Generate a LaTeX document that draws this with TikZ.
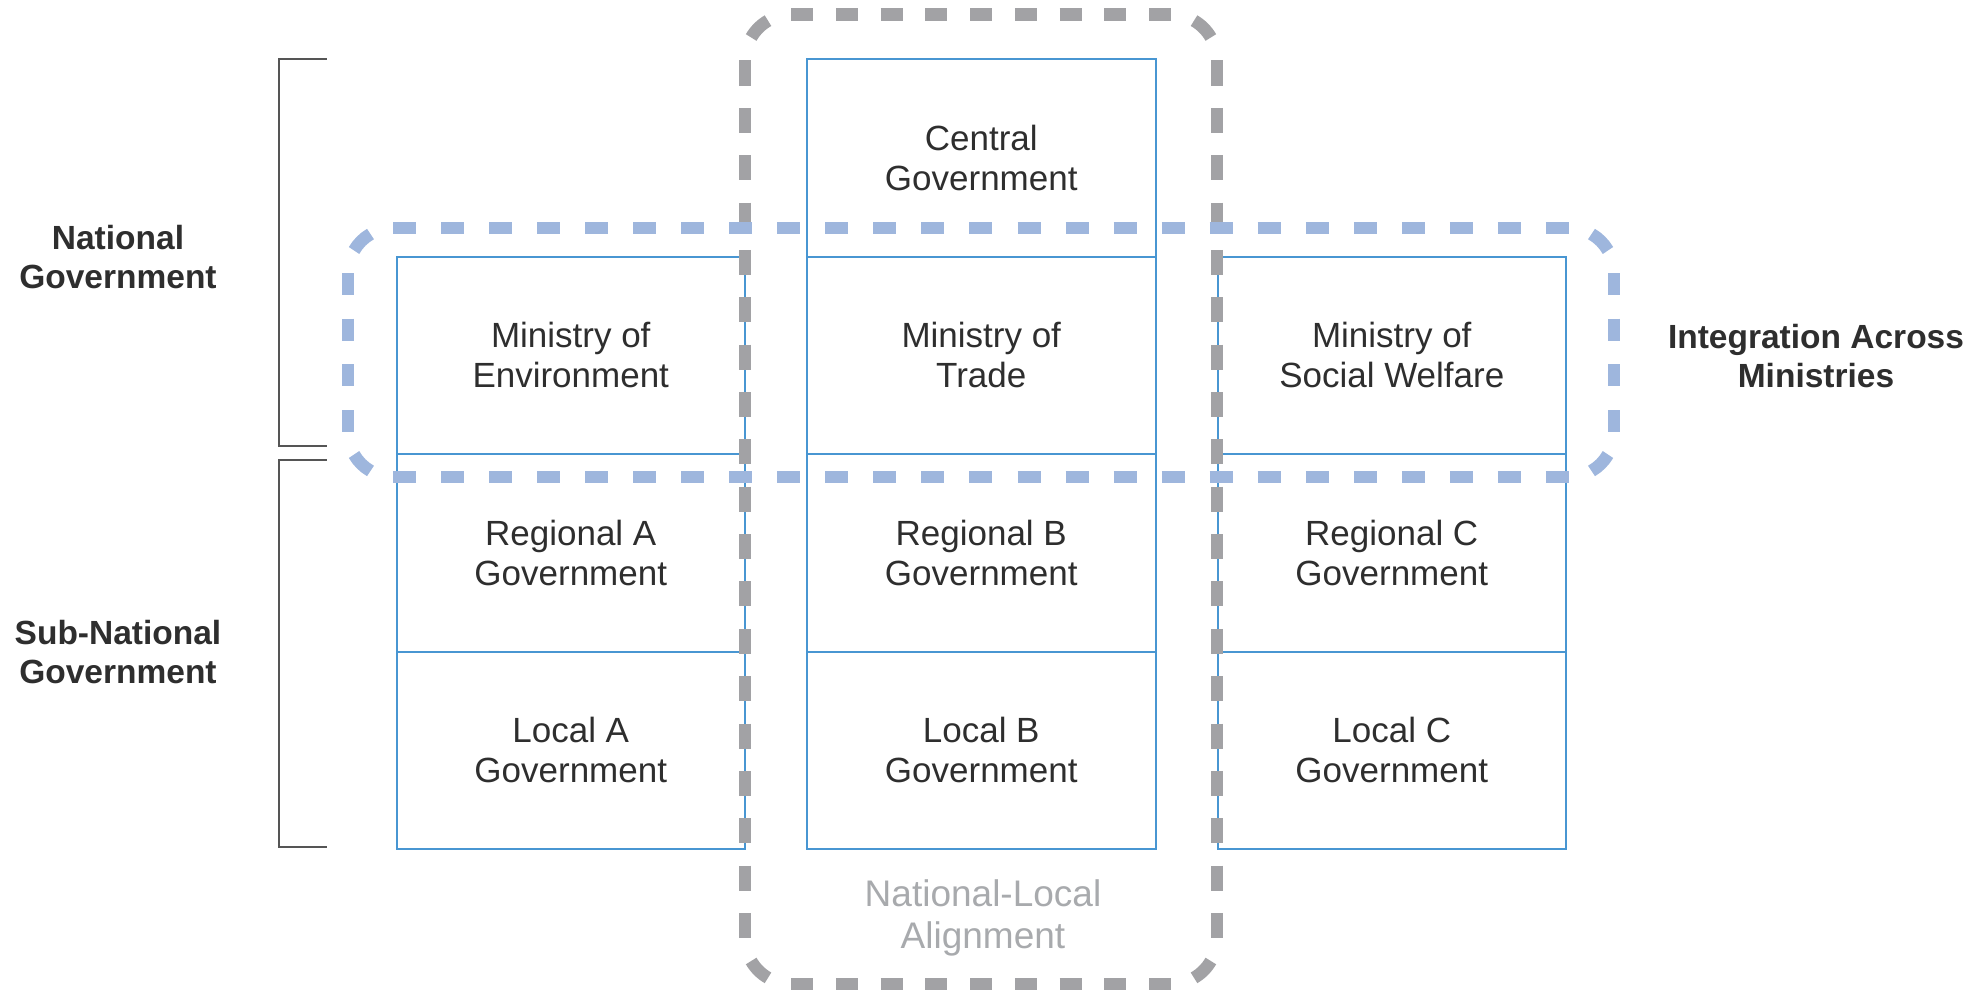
\documentclass[tikz,border=0pt]{standalone}
\usepackage{fontspec}
\setmainfont{Liberation Sans}
\definecolor{boxblue}{HTML}{4896D2}
\definecolor{gdashc}{HTML}{A2A2A5}
\definecolor{bdashc}{HTML}{9EB6DD}
\definecolor{txt}{HTML}{2E2E2E}
\definecolor{glabc}{HTML}{A8AAAD}
\definecolor{brk}{HTML}{555555}
\begin{document}
\begin{tikzpicture}[x=1pt,y=-1pt,
  box/.style={draw=boxblue, line width=2pt, minimum width=348.5pt, minimum height=197.5pt,
    inner sep=0pt, align=center, text=txt, font=\fontsize{35}{40}\selectfont},
  lab/.style={align=center, text=txt, inner sep=0pt, font=\fontsize{33.5}{39}\selectfont\bfseries},
  glab/.style={align=center, text=glabc, inner sep=0pt, font=\fontsize{37}{42}\selectfont},
  bracket/.style={draw=brk, line width=2pt},
  gdash/.style={draw=gdashc, line width=12.5pt},
  bdash/.style={draw=bdashc, line width=12.5pt}]
\useasboundingbox (0,0) rectangle (1986,990);

% boxes
\node[box] (cen)  at (981.25,157.75) {Central\\Government};
\node[box] (env)  at (570.75,355.25) {Ministry of\\Environment};
\node[box] (tra)  at (981.25,355.25) {Ministry of\\Trade};
\node[box] (soc)  at (1391.75,355.25) {Ministry of\\Social Welfare};
\node[box] (rega) at (570.75,552.75) {Regional A\\Government};
\node[box] (regb) at (981.25,552.75) {Regional B\\Government};
\node[box] (regc) at (1391.75,552.75) {Regional C\\Government};
\node[box] (loca) at (570.75,750.25) {Local A\\Government};
\node[box] (locb) at (981.25,750.25) {Local B\\Government};
\node[box] (locc) at (1391.75,750.25) {Local C\\Government};

% brackets
\draw[bracket] (326.5,59) -- (279,59) -- (279,446) -- (326.5,446);
\draw[bracket] (326.5,460) -- (279,460) -- (279,847) -- (326.5,847);

% labels
\node[lab] (natl) at (118,257) {National\\Government};
\node[lab] (subn) at (118,652) {Sub-National\\Government};
\node[lab] (integ) at (1816,356) {Integration Across\\Ministries};
\node[glab] (nla) at (983,918) {National-Local\\Alignment};

% gray dashed rounded rectangle (National-Local Alignment)
\draw[gdash, dash pattern=on 25pt off 22.36pt] (745,60.5) -- (745,938);
\draw[gdash, dash pattern=on 25pt off 22.36pt] (1217,60.5) -- (1217,938);
\draw[gdash, dash pattern=on 22pt off 22.75pt] (791,14.5) -- (1171,14.5);
\draw[gdash, dash pattern=on 22pt off 22.75pt] (791,984) -- (1171,984);
\draw[gdash] (791,60.5) ++(210:46) arc[start angle=210, end angle=240, radius=46];
\draw[gdash] (1171,60.5) ++(300:46) arc[start angle=300, end angle=330, radius=46];
\draw[gdash] (1171,938) ++(30:46) arc[start angle=30, end angle=60, radius=46];
\draw[gdash] (791,938) ++(120:46) arc[start angle=120, end angle=150, radius=46];

% blue dashed rounded rectangle (Integration Across Ministries)
\draw[bdash, dash pattern=on 23pt off 25.04pt] (393,228) -- (1569,228);
\draw[bdash, dash pattern=on 23pt off 25.04pt] (393,477) -- (1569,477);
\draw[bdash, dash pattern=on 22pt off 23.67pt] (348,273) -- (348,432);
\draw[bdash, dash pattern=on 22pt off 23.67pt] (1614,273) -- (1614,432);
\draw[bdash] (393,273) ++(210:45) arc[start angle=210, end angle=240, radius=45];
\draw[bdash] (1569,273) ++(300:45) arc[start angle=300, end angle=330, radius=45];
\draw[bdash] (1569,432) ++(30:45) arc[start angle=30, end angle=60, radius=45];
\draw[bdash] (393,432) ++(120:45) arc[start angle=120, end angle=150, radius=45];
\end{tikzpicture}
\end{document}
